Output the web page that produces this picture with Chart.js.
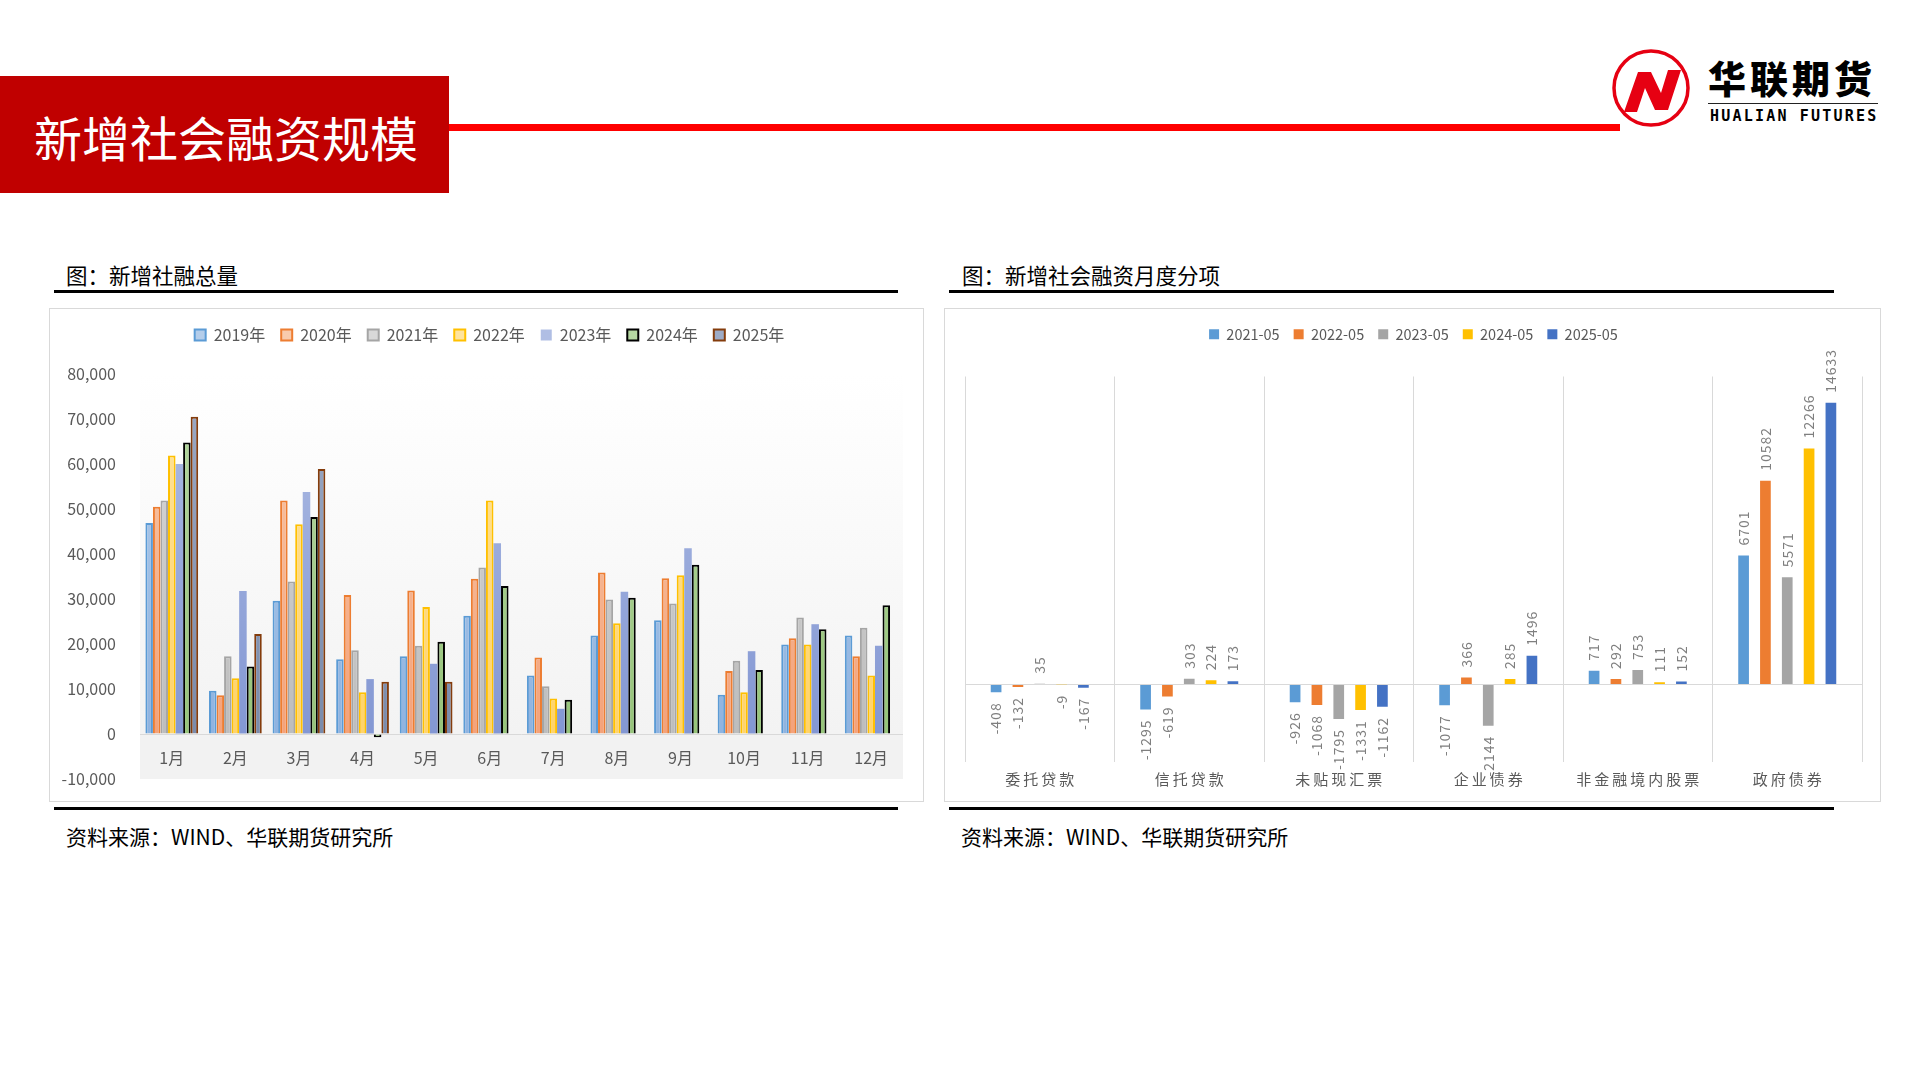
<!DOCTYPE html>
<html>
<head>
<meta charset="utf-8">
<script src="https://cdn.jsdelivr.net/npm/chart.js"></script>
<style>
    body { margin: 0; background: #fff; font-family: "Noto Sans CJK SC", sans-serif; }
    .page { position: relative; width: 1920px; height: 1080px; overflow: hidden; background: #fff; }
    .head-box { position: absolute; left: 0; top: 76px; width: 449px; height: 117px; background: #c00000; }
    .head-title { position: absolute; left: 34px; top: 106px; font-size: 48px; line-height: 60px; color: #fff; }
    .head-line { position: absolute; left: 449px; top: 124px; width: 1171px; height: 7px; background: #ff0000; }
    .panel-title { position: absolute; top: 260px; font-size: 21.5px; line-height: 30px; color: #000; }
    .rule { position: absolute; height: 2.5px; background: #000; }
    .box { position: absolute; top: 308px; height: 494px; border: 1px solid #d9d9d9; box-sizing: border-box; }
    .box canvas { position: absolute; left: -1px; top: -1px; }
    .source { position: absolute; top: 821px; font-size: 21px; line-height: 30px; color: #000; }
    .logo-cn { position: absolute; left: 1708px; top: 54px; font-size: 38px; line-height: 46px; font-weight: 900; letter-spacing: 4px; color: #000; }
    .logo-rule { position: absolute; left: 1708px; top: 103px; width: 170px; height: 1px; background: #222; }
    .logo-en { position: absolute; left: 1710px; top: 106px; font-family: "DejaVu Sans Mono", monospace; font-size: 15px; line-height: 20px; letter-spacing: 2.2px; color: #000; font-weight: bold; }
</style>
</head>
<body>
<div class="page">
    <div class="head-box"></div>
    <div class="head-title">新增社会融资规模</div>
    <div class="head-line"></div>

    <svg style="position:absolute;left:1608px;top:46px" width="88" height="88" viewBox="1608 46 88 88">
        <circle cx="1651" cy="88" r="37" fill="#fff" stroke="#e60012" stroke-width="3.5"/>
        <polygon fill="#e60012" points="1624,112 1638,72 1651,72 1661,93 1668,70 1681,70 1668,110 1655,110 1645,88 1637,112"/>
    </svg>
    <div class="logo-cn">华联期货</div>
    <div class="logo-rule"></div>
    <div class="logo-en">HUALIAN FUTURES</div>

    <div class="panel-title" style="left:66px">图：新增社融总量</div>
    <div class="rule" style="left:54px;top:290px;width:844px"></div>
    <div class="box" style="left:49px;width:875px"><canvas id="totalChart" width="875" height="494"></canvas></div>
    <div class="rule" style="left:54px;top:807px;width:844px"></div>
    <div class="source" style="left:66px">资料来源：WIND、华联期货研究所</div>

    <div class="panel-title" style="left:962px">图：新增社会融资月度分项</div>
    <div class="rule" style="left:949px;top:290px;width:885px"></div>
    <div class="box" style="left:944px;width:937px"><canvas id="itemChart" width="937" height="494"></canvas></div>
    <div class="rule" style="left:949px;top:807px;width:885px"></div>
    <div class="source" style="left:961px">资料来源：WIND、华联期货研究所</div>
</div>

<script>
// 新增社融总量 (亿元)
const months = ['1月', '2月', '3月', '4月', '5月', '6月', '7月', '8月', '9月', '10月', '11月', '12月'];
const years = ['2019年', '2020年', '2021年', '2022年', '2023年', '2024年', '2025年'];
const total2019 = [46900, 9600, 29600, 16600, 17300, 26300, 13000, 21900, 25300, 8700, 19900, 21900];
const total2020 = [50500, 8600, 51900, 30900, 31900, 34500, 17000, 35900, 34600, 14000, 21300, 17300];
const total2021 = [51900, 17300, 33900, 18600, 19600, 37000, 10600, 29900, 29000, 16300, 25900, 23600];
const total2022 = [61900, 12400, 46600, 9300, 28200, 51900, 7900, 24600, 35300, 9300, 19900, 13000];
const total2023 = [60000, 31800, 53800, 12200, 15600, 42400, 5600, 31600, 41300, 18400, 24400, 19600];
const total2024 = [64800, 15000, 48200, -700, 20500, 32900, 7600, 30300, 37600, 14200, 23300, 28600];
const total2025 = [70500, 22200, 58900, 11600, 11600, null, null, null, null, null, null, null];
const totalTicks = [-10000, 0, 10000, 20000, 30000, 40000, 50000, 60000, 70000, 80000];

// 社融月度分项 (亿元)
const items = ['委托贷款', '信托贷款', '未贴现汇票', '企业债券', '非金融境内股票', '政府债券'];
const itemMonths = ['2021-05', '2022-05', '2023-05', '2024-05', '2025-05'];
const item2021 = [-408, -1295, -926, -1077, 717, 6701];
const item2022 = [-132, -619, -1068, 366, 292, 10582];
const item2023 = [35, 303, -1795, -2144, 753, 5571];
const item2024 = [-9, 224, -1331, 285, 111, 12266];
const item2025 = [-167, 173, -1162, 1496, 152, 14633];

const labelColor = '#595959';
const cnFont = '"Noto Sans CJK SC", sans-serif';

// vertical gradient fill like the excel bars
function barGrad(top, bottom) {
    return function (c) {
        const area = c.chart.chartArea;
        if (!area) return bottom;
        const y0 = c.chart.scales.y.getPixelForValue(0);
        const g = c.chart.ctx.createLinearGradient(0, area.top, 0, y0);
        g.addColorStop(0, top);
        g.addColorStop(1, bottom);
        return g;
    };
}

// extra room under the legend
const legendGap = {
    id: 'legendGap',
    beforeInit(chart, args, opts) {
        const fit = chart.legend.fit;
        chart.legend.fit = function () {
            fit.call(this);
            this.height += opts.gap || 0;
        };
    }
};

// plot area background: light gradient above zero, flat grey below
const plotBg = {
    id: 'plotBg',
    beforeDraw(chart) {
        const ctx = chart.ctx;
        const a = chart.chartArea;
        const y0 = chart.scales.y.getPixelForValue(0);
        const g = ctx.createLinearGradient(0, a.top, 0, y0);
        g.addColorStop(0, '#ffffff');
        g.addColorStop(1, '#f3f3f3');
        ctx.save();
        ctx.fillStyle = g;
        ctx.fillRect(a.left, a.top, a.right - a.left, y0 - a.top);
        ctx.fillStyle = '#f2f2f2';
        ctx.fillRect(a.left, y0, a.right - a.left, a.bottom - y0);
        ctx.restore();
    }
};

// rotated value labels at the bar ends
const barLabels = {
    id: 'barLabels',
    afterDatasetsDraw(chart) {
        const ctx = chart.ctx;
        ctx.save();
        ctx.font = '14px ' + cnFont;
        ctx.fillStyle = '#7f7f7f';
        ctx.letterSpacing = '1px';
        ctx.textBaseline = 'middle';
        chart.data.datasets.forEach((ds, i) => {
            chart.getDatasetMeta(i).data.forEach((bar, j) => {
                const v = ds.data[j];
                ctx.save();
                ctx.translate(bar.x, v >= 0 ? bar.y - 10 : bar.y + 10);
                ctx.rotate(-Math.PI / 2);
                ctx.textAlign = v >= 0 ? 'left' : 'right';
                ctx.fillText(String(v), 0, 0);
                ctx.restore();
            });
        });
        ctx.restore();
    }
};

const totalStyles = [
    { top: '#b4cdea', bottom: '#8fb3e0', border: '#5b9bd5', width: 2 },
    { top: '#f8cbad', bottom: '#f4a27a', border: '#ed7d31', width: 2 },
    { top: '#d9d9d9', bottom: '#bdbdbd', border: '#a5a5a5', width: 2 },
    { top: '#ffe49e', bottom: '#ffd36a', border: '#ffc000', width: 2 },
    { top: '#b0bee4', bottom: '#8397d3', border: '#8397d3', width: 0 },
    { top: '#b6d8a2', bottom: '#96c47a', border: '#000000', width: 2 },
    { top: '#9dabc6', bottom: '#7a8bab', border: '#843c0c', width: 2 }
];
const totalData = [total2019, total2020, total2021, total2022, total2023, total2024, total2025];

new Chart(document.getElementById('totalChart'), {
    type: 'bar',
    data: {
        labels: months,
        datasets: years.map((y, i) => ({
            label: y,
            data: totalData[i],
            backgroundColor: barGrad(totalStyles[i].top, totalStyles[i].bottom),
            borderColor: totalStyles[i].border,
            borderWidth: totalStyles[i].width,
            categoryPercentage: 0.83,
            barPercentage: 1.0
        }))
    },
    options: {
        responsive: false,
        animation: false,
        devicePixelRatio: 1,
        layout: { padding: { left: 6, right: 0, top: 3, bottom: 23 } },
        plugins: {
            legend: {
                labels: {
                    boxWidth: 11, boxHeight: 11, padding: 16,
                    color: labelColor, font: { size: 16, family: cnFont }
                }
            },
            legendGap: { gap: 21 },
            tooltip: { enabled: false }
        },
        scales: {
            x: {
                // month labels sit inside the grey band under the zero line
                position: { y: 0 },
                grid: { display: false },
                border: { display: false },
                ticks: { color: labelColor, font: { size: 16, family: cnFont }, padding: 6.5, maxRotation: 0, autoSkip: false },
                afterFit(scale) { scale.height = 0; }
            },
            y: {
                min: totalTicks[0],
                max: totalTicks[totalTicks.length - 1],
                afterBuildTicks(scale) { scale.ticks = totalTicks.map(v => ({ value: v })); },
                grid: {
                    drawTicks: true,
                    tickLength: 24,
                    tickColor: 'rgba(0,0,0,0)',
                    color: c => (c.tick && c.tick.value === 0 ? '#d9d9d9' : 'rgba(0,0,0,0)')
                },
                border: { display: false },
                ticks: {
                    color: labelColor, font: { size: 16, family: cnFont }, padding: 0,
                    callback: v => Number(v).toLocaleString('en-US')
                },
                afterFit(scale) { scale.width = 85; }
            },
            // empty right axis, only keeps the plot off the right edge
            yRight: {
                position: 'right',
                min: totalTicks[0],
                max: totalTicks[totalTicks.length - 1],
                grid: { display: false },
                border: { display: false },
                ticks: { display: false },
                afterFit(scale) { scale.width = 21; }
            }
        }
    },
    plugins: [plotBg, legendGap]
});

const itemColors = ['#5b9bd5', '#ed7d31', '#a5a5a5', '#ffc000', '#4472c4'];
const itemData = [item2021, item2022, item2023, item2024, item2025];

new Chart(document.getElementById('itemChart'), {
    type: 'bar',
    data: {
        labels: items,
        datasets: itemMonths.map((m, i) => ({
            label: m,
            data: itemData[i],
            backgroundColor: itemColors[i],
            borderWidth: 0,
            categoryPercentage: 0.73,
            barPercentage: 0.49
        }))
    },
    options: {
        responsive: false,
        animation: false,
        devicePixelRatio: 1,
        layout: { padding: { left: 21, right: 19, top: 5, bottom: 0 } },
        plugins: {
            legend: {
                labels: {
                    boxWidth: 10, boxHeight: 10, padding: 14,
                    color: labelColor, font: { size: 14.5, family: cnFont }
                }
            },
            legendGap: { gap: 25 },
            tooltip: { enabled: false }
        },
        scales: {
            x: {
                grid: { color: '#d9d9d9', drawTicks: false, offset: true },
                border: { display: false },
                ticks: {
                    color: labelColor, font: { size: 15, family: cnFont }, padding: 9,
                    callback(v) { return this.getLabelForValue(v).split('').join('\u2009'); }
                },
                afterFit(scale) { scale.height = 40.5; }
            },
            y: {
                min: -4000,
                max: 16000,
                ticks: { display: false, stepSize: 2000 },
                grid: {
                    drawTicks: false,
                    color: c => (c.tick && c.tick.value === 0 ? '#d9d9d9' : 'rgba(0,0,0,0)')
                },
                border: { display: false },
                afterFit(scale) { scale.width = 0; }
            }
        }
    },
    plugins: [barLabels, legendGap]
});
</script>
</body>
</html>
